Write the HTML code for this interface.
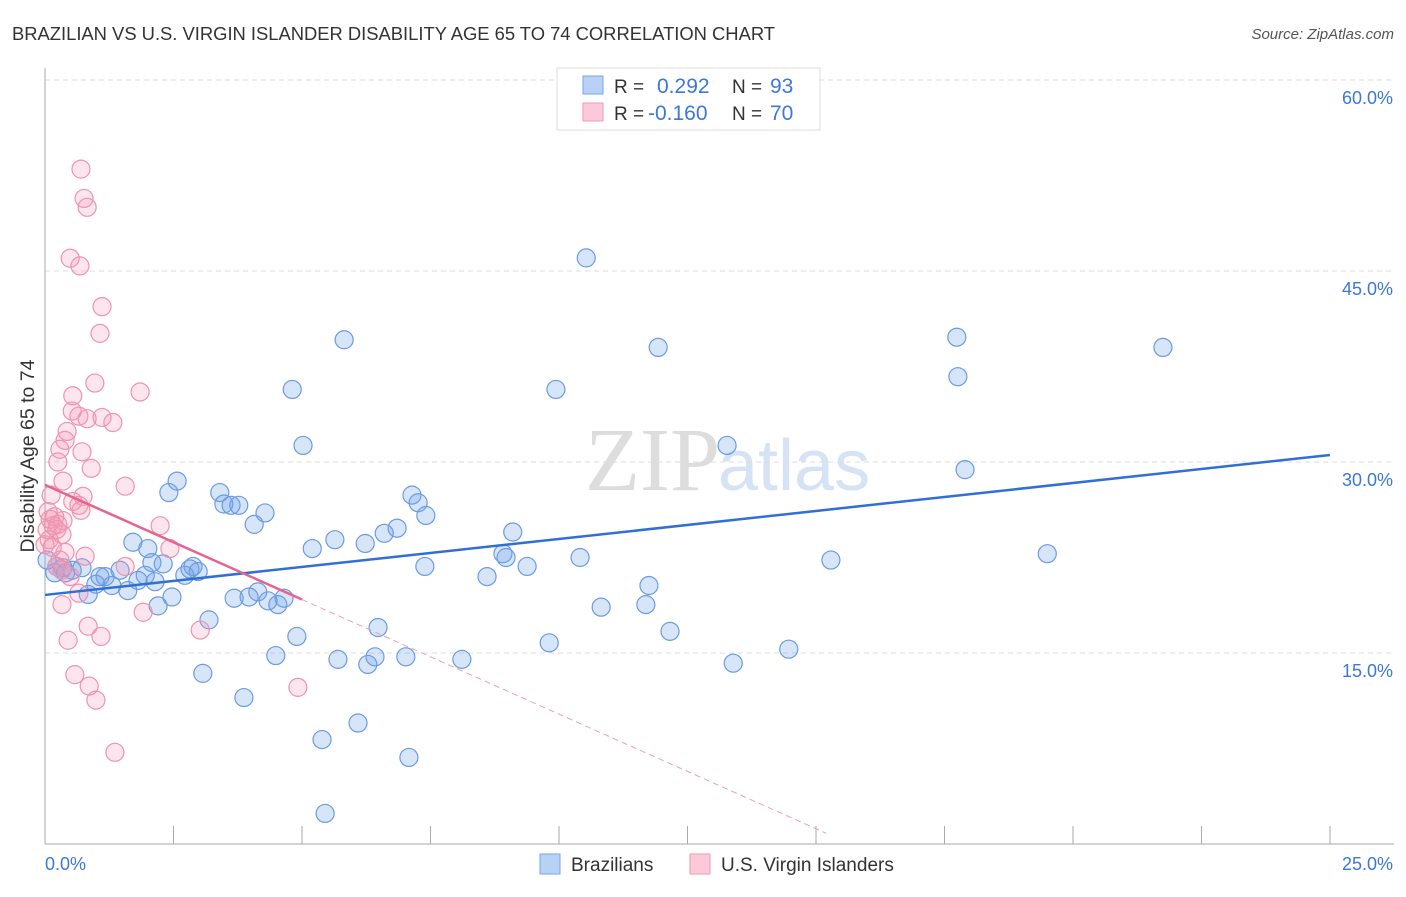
<!DOCTYPE html>
<html><head><meta charset="utf-8"><style>
body{margin:0;background:#fff;font-family:"Liberation Sans",sans-serif;}
</style></head><body>
<svg id="chart" width="1406" height="892" xmlns="http://www.w3.org/2000/svg">
<text x="12" y="40" font-size="18.4" fill="#333" textLength="763">BRAZILIAN VS U.S. VIRGIN ISLANDER DISABILITY AGE 65 TO 74 CORRELATION CHART</text>
<text x="1394" y="39" font-size="15" fill="#555" font-style="italic" text-anchor="end">Source: ZipAtlas.com</text>
<text x="720" y="490" font-size="90" fill="#ddd" font-family="Liberation Serif" text-anchor="end">ZIP</text>
<text x="718" y="490" font-size="72" fill="#d5e3f5">atlas</text>
<g id="grid"></g>
<g id="axes"></g>
<g id="pts"></g>
<g id="lines"></g>
<text transform="translate(34,456) rotate(-90)" font-size="19.5" fill="#333" text-anchor="middle">Disability Age 65 to 74</text>
<g>
<rect x="557" y="68" width="263" height="62" fill="#fff" stroke="#ddd"/>
<rect x="583" y="76" width="20" height="18" fill="#b8d1f5" stroke="#7aa6e6"/>
<rect x="583" y="103" width="20" height="18" fill="#fbc9d8" stroke="#ee9ab5"/>
<text x="614" y="93" font-size="19" fill="#333">R = </text><text x="657" y="93" font-size="21" fill="#3b78d8">0.292</text>
<text x="732" y="93" font-size="19" fill="#333">N = </text><text x="770" y="93" font-size="21" fill="#3b78d8">93</text>
<text x="614" y="120" font-size="19" fill="#333">R = </text><text x="648" y="120" font-size="21" fill="#3b78d8">-0.160</text>
<text x="732" y="120" font-size="19" fill="#333">N = </text><text x="770" y="120" font-size="21" fill="#3b78d8">70</text>
</g>
<g><rect x="540" y="854" width="20" height="20" fill="#b8d1f5" stroke="#7aa6e6"/><text x="571" y="871" font-size="19" fill="#333">Brazilians</text></g>
<g><rect x="690" y="854" width="20" height="20" fill="#fbc9d8" stroke="#ee9ab5"/><text x="721" y="871" font-size="19" fill="#333">U.S. Virgin Islanders</text></g>
</svg>
<script>
const yTicks=[15,30,45,60];
const xTickLabels=["0.0%","25.0%"];
const blueX=[10.53,5.82,11.93,17.74,21.75,17.76,4.81,9.94,5.02,13.27,17.9,2.57,2.41,3.40,7.14,3.48,3.62,3.77,7.26,4.28,7.41,4.07,6.85,6.60,9.1,5.64,6.23,1.71,2.0,5.2,8.91,19.5,8.97,10.41,15.29,2.08,2.30,2.88,2.82,2.98,7.39,9.38,0.23,0.72,0.35,0.53,1.46,1.95,2.72,1.17,1.07,8.6,1.81,2.14,0.99,1.30,1.61,11.75,4.14,3.68,3.97,4.65,4.34,4.53,2.47,0.84,2.20,10.82,11.69,3.19,6.48,12.16,4.90,9.81,14.47,4.49,5.70,6.42,6.28,7.02,8.11,13.39,3.07,3.87,6.09,5.39,7.08,5.45,0.04,0.19,0.4];
const blueY=[46.03,39.6,39.0,39.8,39.0,36.7,35.7,35.7,31.3,31.3,29.4,28.5,27.6,27.6,27.4,26.7,26.6,26.6,26.8,26.0,25.8,25.1,24.8,24.4,24.5,23.9,23.6,23.7,23.2,23.2,22.8,22.8,22.5,22.5,22.3,22.1,22.0,21.8,21.6,21.4,21.8,21.8,21.8,21.7,21.7,21.5,21.5,21.1,21.1,21.0,21.0,21.0,20.7,20.6,20.4,20.3,19.9,20.3,19.8,19.3,19.4,19.3,19.1,18.8,19.4,19.6,18.7,18.6,18.8,17.6,17.0,16.7,16.3,15.8,15.3,14.8,14.5,14.7,14.1,14.7,14.5,14.2,13.4,11.5,9.5,8.2,6.8,2.4,22.3,21.3,21.3];
const pinkX=[0.70,0.76,0.82,0.49,0.68,1.11,1.07,0.97,1.85,0.54,0.53,0.66,0.82,1.11,1.32,0.43,0.39,0.29,0.72,0.25,0.90,0.35,1.56,0.12,0.74,0.54,0.66,0.70,0.35,0.06,0.19,2.24,0.23,0.33,0.08,2.43,0.39,0.78,0.29,0.23,0.33,0.49,1.56,0.66,0.33,1.91,0.84,3.02,0.45,1.09,0.58,0.86,4.92,0.99,1.36,0.1,0.04,0.16,0.25,0.0,0.14];
const pinkY=[53.0,50.7,50.0,46.0,45.4,42.2,40.1,36.2,35.5,35.2,34.0,33.6,33.4,33.5,33.1,32.4,31.7,31.0,30.8,30.0,29.5,28.5,28.1,27.4,27.3,26.9,26.6,26.2,25.4,26.1,25.7,25.0,24.7,24.3,23.9,23.2,22.9,22.6,22.3,21.8,21.5,21.0,21.8,19.7,18.8,18.2,17.1,16.8,16.0,16.3,13.3,12.4,12.3,11.3,7.2,25.5,24.7,25.0,25.1,23.5,23.3];
const blueTrend=[19.56,30.55];
const pinkTrend=[28.2,-1.8];
const X0=45,X1=1330,Y0=844;
function sx(v){return X0+(X1-X0)*v/25;}
function sy(v){return Y0-v*191/15;}
const NS="http://www.w3.org/2000/svg";
function mk(tag,attrs,parent){const e=document.createElementNS(NS,tag);for(const k in attrs)e.setAttribute(k,attrs[k]);parent.appendChild(e);return e;}
const grid=document.getElementById('grid'),axes=document.getElementById('axes'),pts=document.getElementById('pts'),lines=document.getElementById('lines');
yTicks.forEach(t=>{
  const l=mk('line',{x1:X0,x2:1394,y1:sy(t),y2:sy(t),stroke:'#ddd','stroke-dasharray':'5,4'},grid);
  
  
  const tx=mk('text',{x:1393,y:sy(t)+24,'font-size':18,fill:'#3b78d8','text-anchor':'end'},grid);
  tx.textContent=t.toFixed(1)+'%';
  
  
});
const ax=mk('line',{x1:X0,x2:X0,y1:68,y2:Y0,stroke:'#aaa'},axes);


const bx=mk('line',{x1:X0,x2:1394,y1:Y0,y2:Y0,stroke:'#aaa'},axes);


for(let i=0;i<=10;i++){
  const t=mk('line',{x1:sx(i*2.5),x2:sx(i*2.5),y1:826,y2:Y0,stroke:'#aaa'},axes);
  
  
}
const xl0=mk('text',{x:45,y:870,'font-size':18,fill:'#3b78d8'},axes);xl0.textContent=xTickLabels[0];


const xl1=mk('text',{x:1393,y:870,'font-size':18,fill:'#3b78d8','text-anchor':'end'},axes);xl1.textContent=xTickLabels[1];


blueX.forEach((x,i)=>{
  const c=mk('circle',{cx:sx(x),cy:sy(blueY[i]),r:9,fill:'rgba(110,160,230,0.28)',stroke:'#6b9be3','stroke-width':1.2},pts);
  
  
});
pinkX.forEach((x,i)=>{
  const c=mk('circle',{cx:sx(x),cy:sy(pinkY[i]),r:9,fill:'rgba(245,150,180,0.25)',stroke:'#ee93b0','stroke-width':1.2},pts);
  
  
});
const bl=mk('line',{x1:sx(0),y1:sy(blueTrend[0]),x2:sx(25),y2:sy(blueTrend[1]),stroke:'#2f6fd6','stroke-width':2.5},lines);


const pl=mk('line',{x1:sx(0),y1:sy(pinkTrend[0]),x2:sx(5),y2:sy(pinkTrend[0]+pinkTrend[1]*5),stroke:'#e8628e','stroke-width':2.5},lines);


const pd=mk('line',{x1:sx(5),y1:sy(pinkTrend[0]+pinkTrend[1]*5),x2:sx(15.2),y2:sy(pinkTrend[0]+pinkTrend[1]*15.2),stroke:'#eca0b8','stroke-width':1,'stroke-dasharray':'6,4'},lines);


</script>
</body></html>
